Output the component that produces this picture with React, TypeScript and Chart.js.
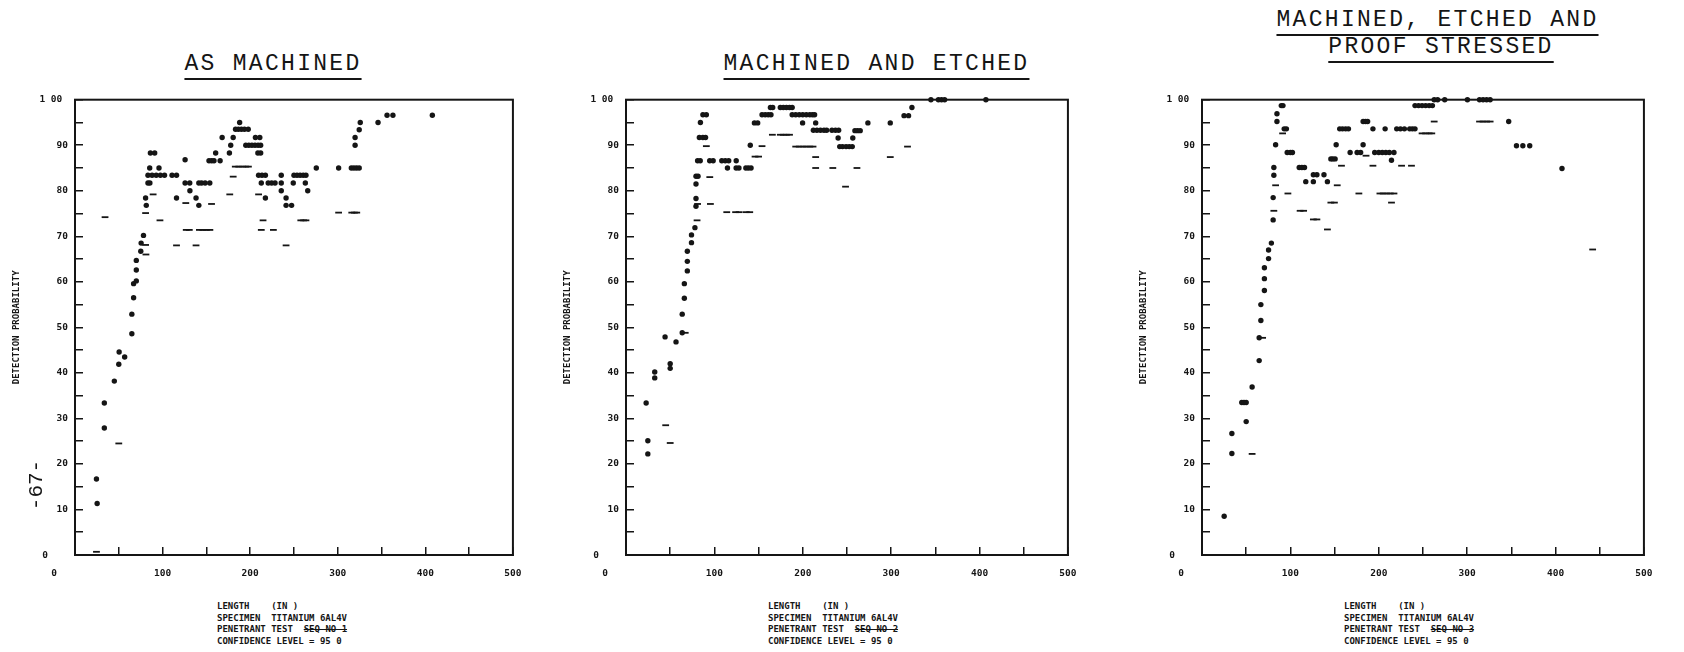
import React, { useEffect, useRef } from "react";
import { Chart, registerables } from "chart.js";
Chart.register(...registerables);

type Pt = [number, number];

// ---------- DATA (length, detection probability %) ----------
const asMachinedProb: Pt[] = [
  [24.5, 16.7], [25.3, 11.3], [33.5, 33.4], [33.5, 27.9], [44.9, 38.2], [50, 41.9], [50.4, 44.6], [56.7, 43.5],
  [64.9, 48.6], [64.9, 52.9], [66.9, 56.5], [66.9, 59.6], [70, 60.2], [70, 62.6], [70, 64.7], [75.1, 66.7], [75.5, 68.5], [78.2, 70.2],
  [81.4, 76.8], [80.6, 78.4], [83.3, 81.7], [85.5, 81.7], [85.3, 85], [86.1, 88.3], [91, 88.3],
  [83.3, 83.4], [88, 83.4], [92.7, 83.4], [97.5, 83.4], [102.2, 83.4], [110.8, 83.4], [115.9, 83.4],
  [95.9, 85], [115.9, 78.4], [125.7, 86.8], [125.7, 81.7], [131, 81.7], [131.2, 80], [138.2, 78.4], [141.4, 76.8],
  [141.4, 81.7], [144.5, 81.7], [148.6, 81.7], [153.9, 81.7], [153, 86.6], [156, 86.6], [158.7, 86.6], [165.7, 86.6], [160.6, 88.3], [168, 91.7],
  [176.3, 88.3], [177.8, 90], [180.6, 91.7], [188, 95],
  [183.3, 93.5], [186.5, 93.5], [190, 93.5], [193.5, 93.5], [197.8, 93.5],
  [195, 90], [198.5, 90], [202, 90], [205.5, 90], [209, 90], [212, 90],
  [206, 91.7], [211, 91.7], [208.8, 88.3], [212, 88.3],
  [209.6, 83.4], [213.5, 83.4], [217.4, 83.4],
  [212.7, 81.7], [217.4, 78.4], [220.6, 81.7], [224.5, 81.7], [228.4, 81.7],
  [235.5, 83.4], [235.5, 81.7], [235.5, 80], [241, 78.4], [241, 76.8], [247.3, 76.8], [249.2, 81.7],
  [250, 83.4], [253.5, 83.4], [257, 83.4], [260.5, 83.4], [263.7, 83.4],
  [263, 81.7], [265.7, 80], [275.5, 85], [301, 85], [315.5, 85], [318.5, 85], [321.5, 85], [324.5, 85],
  [319.8, 90], [319.8, 91.7], [324.5, 93.4], [325.7, 95], [346, 95], [356.3, 96.6], [363, 96.6], [408, 96.6],
];
const asMachinedLower: Pt[] = [
  [24.5, 0.7], [34.3, 74.2], [50, 24.5], [81, 66], [80.6, 68.1], [80.6, 75.1], [89.2, 79.2], [97, 73.5], [115.9, 68],
  [126.5, 77.3], [127, 71.4], [130.5, 71.4], [138.2, 68], [142, 71.4], [146, 71.4], [150, 71.4], [154, 71.4], [155.9, 77.1],
  [176.7, 79.2], [180.6, 83.1], [183, 85.3], [187, 85.3], [191, 85.3], [195, 85.3], [198, 85.3], [209.6, 79.2], [212.7, 71.4],
  [214.7, 73.5], [226.5, 71.4], [241, 68], [257.8, 73.5], [261, 73.5], [263.7, 73.5], [301, 75.2], [316, 75.2], [319, 75.2], [321.7, 75.2],
];

const etchedProb: Pt[] = [
  [22.8, 33.4], [24.7, 25.1], [24.7, 22.2], [32.5, 40.2], [32.5, 38.9], [50, 42], [50, 41], [44.2, 47.9], [56.6, 46.8],
  [63.6, 48.8], [63.6, 52.9], [66, 56.4], [66, 59.6], [69.4, 62.4], [69.4, 64.5], [69.4, 66.7], [74.1, 68.6], [74.1, 70.3],
  [78, 71.9], [79.2, 76.6], [79.2, 78.3], [79.2, 81.5], [79.2, 83.2], [81.5, 83.2], [81, 86.6], [84, 86.6], [84.2, 95],
  [87, 96.7], [90.9, 96.7], [83, 91.7], [87, 91.7], [90, 91.7],
  [94.7, 86.6], [98.6, 86.6], [108.4, 86.6], [112.3, 86.6], [116.2, 86.6], [124.7, 86.6],
  [114.8, 85], [124.6, 85], [127.8, 85], [135.6, 85], [138.4, 85], [141.5, 85],
  [140.6, 90], [145.3, 94.9], [149, 94.9], [153.9, 96.7], [157.5, 96.7], [160.9, 96.7], [163.4, 98.3], [166, 98.3], [164, 96.7],
  [174.6, 98.3], [178, 98.3], [181.5, 98.3], [185, 98.3], [188, 98.3],
  [188, 96.7], [192, 96.7], [196, 96.7], [200, 96.7], [204, 96.7], [208, 96.7], [211, 96.7], [213.4, 96.7],
  [199.8, 94.9], [214.6, 94.9],
  [212, 93.3], [216, 93.3], [220, 93.3], [224, 93.3], [227, 93.3], [233, 93.3], [237, 93.3], [240.6, 93.3],
  [240, 91.6], [241.8, 89.7], [245, 89.7], [249, 89.7], [252.5, 89.7], [256, 89.7],
  [256.6, 91.6], [259, 93.2], [262, 93.2], [265, 93.2], [273.7, 94.9], [299, 94.9], [314.6, 96.5], [319.7, 96.5], [323.5, 98.3],
  [345, 100], [353.5, 100], [357, 100], [360.5, 100], [407.2, 100],
];
const etchedLower: Pt[] = [
  [44.9, 28.5], [50, 24.6], [67, 48.8], [80.4, 73.5], [81, 77.1], [94.8, 83], [95.5, 77.1], [90.9, 89.8],
  [114, 75.3], [124, 75.3], [128, 75.3], [136, 75.3], [140, 75.3], [146, 87.5], [150, 87.5], [153.9, 89.8],
  [165.6, 92.3], [174.6, 92.3], [178, 92.3], [181.5, 92.3], [185, 92.3],
  [192, 89.7], [196, 89.7], [200, 89.7], [204, 89.7], [208, 89.7], [211.6, 89.7], [214.6, 87.4], [214.6, 85],
  [234, 85], [248.4, 80.9], [261.3, 85], [299, 87.4], [318.5, 89.7],
];

const proofProb: Pt[] = [
  [25.1, 8.5], [33.8, 26.7], [33.8, 22.3], [45, 33.5], [47.5, 33.5], [50, 33.5], [50, 29.3], [56.7, 36.9],
  [64.7, 42.7], [64.7, 47.7], [66.6, 51.5], [66.6, 55], [70.6, 58.1], [70.6, 60.7], [70.6, 63.1], [75.3, 65.1], [75.3, 67],
  [78.5, 68.5], [80.5, 73.6], [80.5, 78.5], [81.3, 83.4], [81.3, 85.1], [83.3, 90.1], [84.8, 95.2], [84.8, 96.9],
  [89.7, 98.7], [91.6, 98.7], [93, 93.6], [95.5, 93.6], [96.4, 88.4], [100, 88.4], [102.3, 88.4],
  [110, 85.1], [113, 85.1], [116, 85.1], [117.4, 82], [126, 82], [126, 83.5], [130, 83.5], [138, 83.5], [141.9, 82],
  [145.8, 87], [148, 87], [150.6, 87], [151.8, 90.1],
  [155.8, 93.6], [159, 93.6], [162.5, 93.6], [165.7, 93.6],
  [167.6, 88.4], [175.5, 88.4], [179.5, 88.4], [182.3, 95.2], [185, 95.2], [187.4, 95.2], [182.3, 90.1], [193.4, 93.6],
  [195.4, 88.4], [200, 88.4], [204, 88.4], [208, 88.4], [212, 88.4], [217.2, 88.4],
  [214.4, 86.7], [207.2, 93.6], [220.3, 93.6], [224.5, 93.6], [229, 93.6], [235, 93.6], [238, 93.6], [241, 93.6],
  [241, 98.7], [245, 98.7], [249, 98.7], [253, 98.7], [257, 98.7], [260.7, 98.7],
  [262.7, 100], [266.6, 100], [274.6, 100], [300.3, 100], [314, 100], [318, 100], [322, 100], [326, 100],
  [347, 95.2], [355.8, 89.9], [363, 89.9], [370.8, 89.9], [407.3, 84.9],
];
const proofLower: Pt[] = [
  [24.3, 0], [56.7, 22.2], [68.6, 47.7], [81.3, 75.6], [83.3, 81.2], [91.2, 92.6], [97.2, 79.4], [111, 75.6], [115, 75.6],
  [126, 73.7], [130, 73.7], [141.9, 71.5], [145.8, 77.4], [149.8, 77.4], [153, 81.2], [157.8, 85.5], [177.5, 79.4],
  [185.6, 87.7], [193.4, 85.5], [201.3, 79.4], [205, 79.4], [209, 79.4], [213, 79.4], [217.2, 79.4], [214.4, 77.4],
  [225.8, 85.5], [237, 85.5], [249, 92.6], [253, 92.6], [257, 92.6], [260, 92.6], [262.7, 95.2],
  [314, 95.2], [318, 95.2], [322, 95.2], [326, 95.2], [442, 67.1],
];

const xRange = [0, 500];
const yRange = [0, 100];
const yTopLabel = "1 00";
const yAxisTitle = "DETECTION PROBABILITY";
const footerLines = ["LENGTH    (IN )", "SPECIMEN  TITANIUM 6AL4V", "PENETRANT TEST  ", "CONFIDENCE LEVEL = 95 0"];

// ---------- STYLE / LAYOUT ----------
const INK = "#151515";
const TICK_FONT = { family: '"DejaVu Sans Mono", monospace', size: 9.5, weight: "bold" as const };
const TYPE_FONT = '"Liberation Mono", "Courier New", monospace';
const PLOT_TOP = 89;
const PLOT_H = 466;
const PAD_TOP = 10;
const PAD_RIGHT = 10;
const Y_AXIS_W = 75;
const X_AXIS_H = 30;

const framePlugin = {
  id: "frameAndOrigin",
  afterDraw(chart: any) {
    const { ctx, chartArea: a, scales } = chart;
    ctx.save();
    ctx.strokeStyle = INK;
    ctx.lineWidth = 2;
    ctx.strokeRect(a.left, a.top, a.right - a.left, a.bottom - a.top);
    ctx.fillStyle = INK;
    ctx.font = `bold ${TICK_FONT.size}px ${TICK_FONT.family}`;
    ctx.textAlign = "center";
    ctx.textBaseline = "middle";
    ctx.fillText("0", scales.x.getPixelForValue(0) - 21, a.bottom + 18.5);
    ctx.fillText("0", a.left - 30, scales.y.getPixelForValue(0) + 0.5);
    ctx.restore();
  },
};

function Panel({ prob, lower, plotLeft, plotW }: { prob: Pt[]; lower: Pt[]; plotLeft: number; plotW: number }) {
  const ref = useRef<HTMLCanvasElement>(null);
  const w = Y_AXIS_W + plotW + PAD_RIGHT;
  const h = PAD_TOP + PLOT_H + X_AXIS_H;
  useEffect(() => {
    const chart = new Chart(ref.current!, {
      type: "scatter",
      data: {
        datasets: [
          {
            label: "Detection probability",
            data: prob.map(([x, y]) => ({ x, y })),
            pointStyle: "circle",
            pointRadius: 2.7,
            pointBackgroundColor: INK,
            pointBorderWidth: 0,
            clip: false,
          } as any,
          {
            label: "Lower 95% confidence bound",
            data: lower.map(([x, y]) => ({ x, y })),
            pointStyle: "line",
            pointRadius: 3.4,
            pointBorderColor: INK,
            pointBorderWidth: 1.8,
            clip: false,
          } as any,
        ],
      },
      options: {
        responsive: false,
        animation: false,
        events: [],
        layout: { padding: { left: 0, top: PAD_TOP, right: PAD_RIGHT, bottom: 0 } },
        plugins: { legend: { display: false }, tooltip: { enabled: false } },
        scales: {
          x: {
            type: "linear",
            position: "bottom",
            min: xRange[0],
            max: xRange[1],
            afterFit: (s: any) => { s.height = X_AXIS_H; },
            ticks: {
              stepSize: 50,
              autoSkip: false,
              maxRotation: 0,
              padding: 20.5,
              color: INK,
              font: TICK_FONT,
              callback: (v: any) => (v % 100 === 0 && v !== 0 ? String(v) : ""),
            },
            grid: { drawOnChartArea: false, drawTicks: true, tickLength: -8, color: INK, lineWidth: 1.5 },
            border: { display: true, color: INK, width: 2 },
          },
          y: {
            type: "linear",
            min: yRange[0],
            max: yRange[1],
            afterFit: (s: any) => { s.width = Y_AXIS_W; },
            ticks: {
              stepSize: 5,
              autoSkip: false,
              padding: 15,
              color: INK,
              font: TICK_FONT,
              callback: (v: any) => (v === 100 ? yTopLabel + " " : v % 10 === 0 && v !== 0 ? String(v) : ""),
            },
            grid: { drawOnChartArea: false, drawTicks: true, tickLength: -8, color: INK, lineWidth: 1.5 },
            border: { display: true, color: INK, width: 2 },
            title: {
              display: true,
              text: yAxisTitle,
              color: INK,
              font: { family: '"DejaVu Sans Mono", monospace', size: 9, weight: "bold" },
              padding: { top: 11.6, bottom: 0 },
            },
          },
        },
      } as any,
      plugins: [framePlugin],
    });
    return () => chart.destroy();
  }, []);
  return (
    <canvas
      ref={ref}
      width={w}
      height={h}
      style={{ position: "absolute", left: plotLeft - Y_AXIS_W, top: PLOT_TOP - PAD_TOP, width: w, height: h }}
    />
  );
}

function Title({ text, center, top }: { text: string; center: number; top: number }) {
  return (
    <div
      style={{
        position: "absolute",
        left: center - 250,
        width: 500,
        top,
        textAlign: "center",
        fontFamily: TYPE_FONT,
        fontSize: 23,
        lineHeight: "23px",
        letterSpacing: "2.3px",
        color: INK,
        whiteSpace: "pre",
      }}
    >
      <span style={{ textDecoration: "underline", textDecorationThickness: "2px", textUnderlineOffset: "8px" }}>{text}</span>
    </div>
  );
}

function Footer({ left, seq }: { left: number; seq: string }) {
  const style: React.CSSProperties = {
    fontFamily: '"DejaVu Sans Mono", monospace',
    fontWeight: "bold",
    fontSize: 9,
    lineHeight: "11.7px",
    whiteSpace: "pre",
    color: INK,
  };
  return (
    <div style={{ position: "absolute", left, top: 601, ...style }}>
      <div>{footerLines[0]}</div>
      <div>{footerLines[1]}</div>
      <div>
        {footerLines[2]}
        <span style={{ textDecoration: "line-through" }}>{"SEQ NO " + seq}</span>
      </div>
      <div>{footerLines[3]}</div>
    </div>
  );
}

const panels = [
  { prob: asMachinedProb, lower: asMachinedLower, plotLeft: 75, plotW: 457, seq: "1" },
  { prob: etchedProb, lower: etchedLower, plotLeft: 626, plotW: 461, seq: "2" },
  { prob: proofProb, lower: proofLower, plotLeft: 1202, plotW: 461, seq: "3" },
];

export default function App() {
  return (
    <div style={{ position: "absolute", left: 0, top: 0, width: 1684, height: 652, background: "#fff", overflow: "hidden" }}>
      <Title text="AS MACHINED" center={273} top={52.6} />
      <Title text="MACHINED AND ETCHED" center={876.5} top={52.6} />
      <Title text="MACHINED, ETCHED AND" center={1437.5} top={9} />
      <Title text="PROOF STRESSED" center={1441} top={36} />
      {panels.map((p, i) => (
        <React.Fragment key={i}>
          <Panel prob={p.prob} lower={p.lower} plotLeft={p.plotLeft} plotW={p.plotW} />
          <Footer left={p.plotLeft + 142} seq={p.seq} />
        </React.Fragment>
      ))}
      <div
        style={{
          position: "absolute",
          left: 37 - 40,
          top: 485 - 12,
          width: 80,
          height: 24,
          lineHeight: "24px",
          textAlign: "center",
          fontFamily: TYPE_FONT,
          fontSize: 21,
          color: INK,
          transform: "rotate(-90deg)",
        }}
      >
        -67-
      </div>
    </div>
  );
}
